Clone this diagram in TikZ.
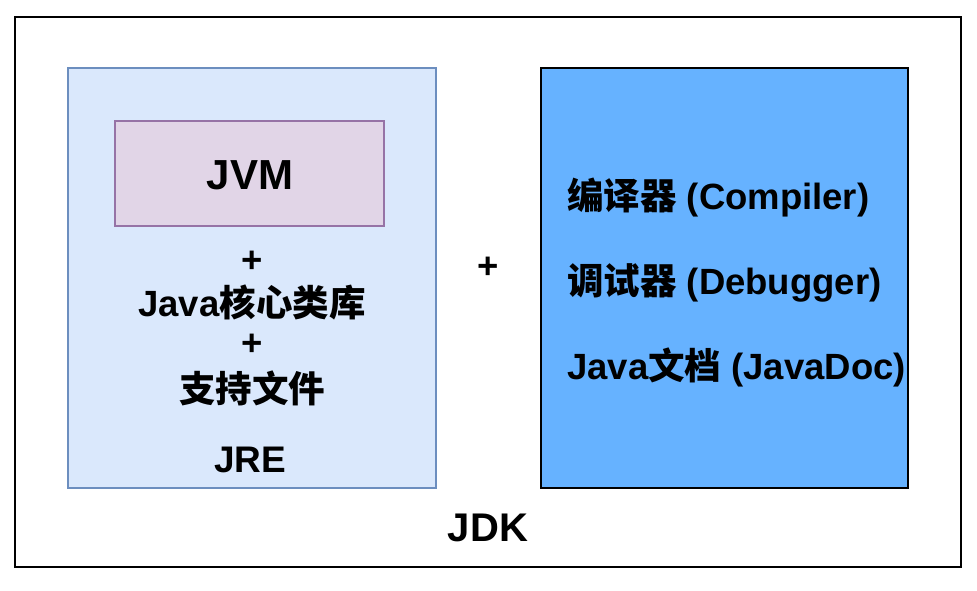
\documentclass[tikz,border=0pt]{standalone}
\usepackage{fontspec}
\setmainfont{Liberation Sans}
\newfontfamily\cjk{Noto Sans CJK SC}
\newcommand{\zh}[1]{{\cjk #1}}
\definecolor{jrefill}{HTML}{DAE8FC}
\definecolor{jredraw}{HTML}{6C8EBF}
\definecolor{jvmfill}{HTML}{E1D5E7}
\definecolor{jvmdraw}{HTML}{9673A6}
\definecolor{toolfill}{HTML}{66B2FF}
\begin{document}
\begin{tikzpicture}[x=1pt,y=-1pt]
                \useasboundingbox (0,0) rectangle (977,590);
                \begin{scope}[every path/.style={line width=2pt}]
                    \draw[black] (15,17) rectangle (961,567);
                    \draw[fill=jrefill, draw=jredraw] (68,68) rectangle (436,488);
                    \draw[fill=jvmfill, draw=jvmdraw] (115,121) rectangle (384,226);
                    \draw[fill=toolfill, draw=black] (541,68) rectangle (908,488);
                \end{scope}

                \begin{scope}[every node/.style={inner sep=0pt, font=\fontsize{36.5}{40}\selectfont\bfseries}]
                    \node[font=\fontsize{42}{46}\selectfont\bfseries] (JVM) at (250,175) {JVM};
                    \node (P1) at (252,262) {+};
                    \node (LIB) at (252,302) {Java\zh{核心类库}};
                    \node (P2) at (252,345) {+};
                    \node (SUP) at (252,388) {\zh{支持文件}};
                    \node[font=\fontsize{37}{40}\selectfont\bfseries] (JRE) at (250,460) {JRE};
                    \node (P3) at (488,268) {+};
                    \node[anchor=west] (CMP) at (567,198) {\zh{编译器} (Compiler)};
                    \node[anchor=west] (DBG) at (567,283) {\zh{调试器} (Debugger)};
                    \node[anchor=west] (DOC) at (567,367) {Java\zh{文档} (JavaDoc)};
                    \node[font=\fontsize{40}{44}\selectfont\bfseries] (JDK) at (488,528) {JDK};
                \end{scope}
            \end{tikzpicture}
\end{document}
